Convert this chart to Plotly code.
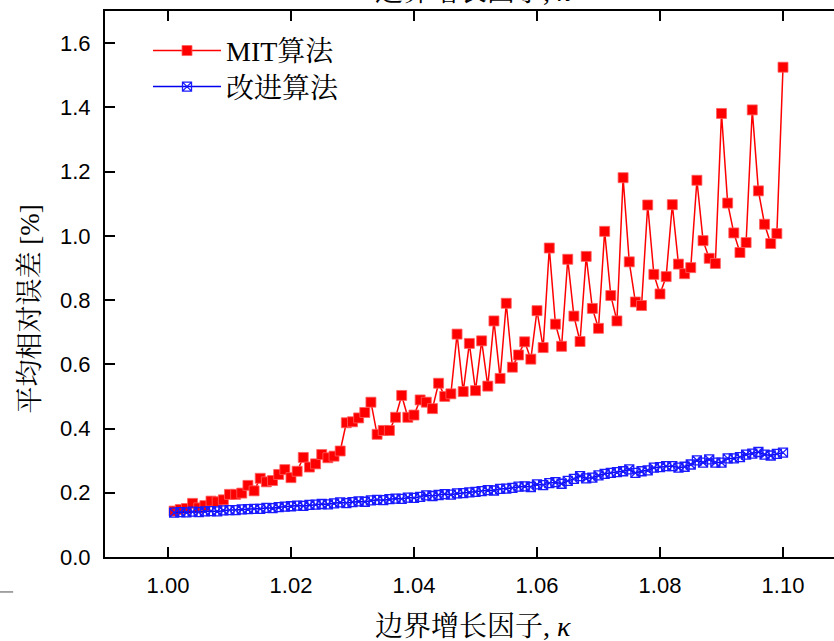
import plotly.graph_objects as go

# boundary growth factor kappa, 1.001 ... 1.100
kappa = [round(1.000 + 0.001 * k, 3) for k in range(1, 101)]

# mean relative error [%], MIT algorithm
mit_err = [
    0.143, 0.148, 0.151, 0.167, 0.153, 0.160, 0.174, 0.172, 0.178, 0.195,
    0.195, 0.199, 0.223, 0.206, 0.245, 0.234, 0.238, 0.257, 0.272, 0.247,
    0.267, 0.310, 0.280, 0.290, 0.319, 0.309, 0.314, 0.330, 0.418, 0.421,
    0.433, 0.450, 0.482, 0.382, 0.394, 0.394, 0.435, 0.503, 0.435, 0.442,
    0.489, 0.482, 0.462, 0.541, 0.500, 0.508, 0.694, 0.515, 0.665, 0.518,
    0.673, 0.532, 0.735, 0.556, 0.790, 0.591, 0.629, 0.670, 0.616, 0.767,
    0.652, 0.962, 0.725, 0.656, 0.927, 0.750, 0.671, 0.936, 0.774, 0.712,
    1.014, 0.814, 0.735, 1.181, 0.919, 0.794, 0.783, 1.096, 0.880, 0.819,
    0.873, 1.097, 0.912, 0.882, 0.901, 1.173, 0.985, 0.930, 0.914, 1.381,
    1.102, 1.009, 0.948, 0.979, 1.392, 1.140, 1.036, 0.976, 1.007, 1.525,
]

# mean relative error [%], improved algorithm
improved_err = [
    0.138, 0.140, 0.139, 0.141, 0.140, 0.142, 0.143, 0.142, 0.145, 0.146,
    0.146, 0.148, 0.149, 0.150, 0.150, 0.153, 0.152, 0.155, 0.157, 0.158,
    0.160, 0.159, 0.162, 0.163, 0.165, 0.164, 0.167, 0.170, 0.168, 0.171,
    0.173, 0.172, 0.176, 0.178, 0.177, 0.180, 0.182, 0.181, 0.185, 0.184,
    0.187, 0.192, 0.190, 0.193, 0.196, 0.194, 0.198, 0.199, 0.201, 0.203,
    0.205, 0.208, 0.207, 0.212, 0.213, 0.215, 0.219, 0.220, 0.218, 0.226,
    0.224, 0.230, 0.233, 0.228, 0.237, 0.243, 0.252, 0.245, 0.247, 0.254,
    0.259, 0.262, 0.264, 0.267, 0.273, 0.262, 0.267, 0.270, 0.278, 0.280,
    0.283, 0.283, 0.278, 0.281, 0.288, 0.301, 0.294, 0.304, 0.294, 0.294,
    0.307, 0.307, 0.311, 0.319, 0.322, 0.327, 0.319, 0.316, 0.321, 0.325,
]

x_ticks = [1.00, 1.02, 1.04, 1.06, 1.08, 1.10]
y_ticks = [0.0, 0.2, 0.4, 0.6, 0.8, 1.0, 1.2, 1.4, 1.6]

SERIF = "Liberation Serif, Noto Serif CJK SC, Noto Sans CJK SC, serif"
SANS = "Liberation Sans, Arial, sans-serif"
AXIS_TITLE = "边界增长因子, <i>κ</i>"

fig = go.Figure()
fig.add_trace(go.Scatter(
    x=kappa, y=mit_err, name="MIT算法", mode="lines+markers",
    legend="legend",
    line=dict(color="#ff0000", width=1.5),
    marker=dict(symbol="square", size=10, color="#ff0000",
                line=dict(color="#ff6060", width=0.8)),
))
fig.add_trace(go.Scatter(
    x=kappa, y=improved_err, name="改进算法", mode="lines+markers",
    legend="legend2",
    line=dict(color="#0000ee", width=1.5),
    marker=dict(symbol="square-x-open", size=9, color="#1a1aff",
                line=dict(width=1.3)),
))

legend_style = dict(
    xanchor="left", yanchor="middle",
    font=dict(family=SERIF, size=28, color="black"),
    bgcolor="rgba(0,0,0,0)", borderwidth=0, itemwidth=68,
)

fig.update_layout(
    width=834, height=641,
    margin=dict(l=105, r=0, t=11, b=84),
    paper_bgcolor="white", plot_bgcolor="white",
    showlegend=True,
    legend=dict(x=0.059, y=0.927, **legend_style),
    legend2=dict(x=0.059, y=0.861, **legend_style),
    xaxis=dict(
        range=[0.98976, 1.10829], tickvals=x_ticks, tickformat=".2f",
        ticks="inside", ticklen=10, tickwidth=2, tickcolor="black",
        showline=True, linecolor="black", linewidth=2, mirror="ticks",
        showgrid=False, zeroline=False,
        tickfont=dict(family=SANS, size=22, color="black"),
        ticklabelstandoff=8,
    ),
    yaxis=dict(
        range=[0, 1.7], tickvals=y_ticks, tickformat=".1f",
        ticks="inside", ticklen=10, tickwidth=2, tickcolor="black",
        showline=True, linecolor="black", linewidth=2, mirror=False,
        showgrid=False, zeroline=False,
        tickfont=dict(family=SANS, size=22, color="black"),
        ticklabelstandoff=8,
    ),
    annotations=[
        dict(text=AXIS_TITLE, xref="paper", yref="paper", x=0.505, y=-0.128,
             xanchor="center", yanchor="middle", showarrow=False,
             font=dict(family=SERIF, size=28, color="black")),
        dict(text=AXIS_TITLE, xref="paper", yref="paper", x=0.505, y=1.035,
             xanchor="center", yanchor="middle", showarrow=False,
             font=dict(family=SERIF, size=28, color="black")),
        dict(text="平均相对误差 [%]", xref="paper", yref="paper",
             x=-0.103, y=0.455, xanchor="center", yanchor="middle",
             textangle=-90, showarrow=False,
             font=dict(family=SERIF, size=27, color="black")),
    ],
    shapes=[
        dict(type="line", xref="paper", yref="paper",
             x0=-0.144, x1=-0.126, y0=-0.064, y1=-0.064,
             line=dict(color="#888888", width=1.5)),
    ],
)

fig.write_html("out.html")
